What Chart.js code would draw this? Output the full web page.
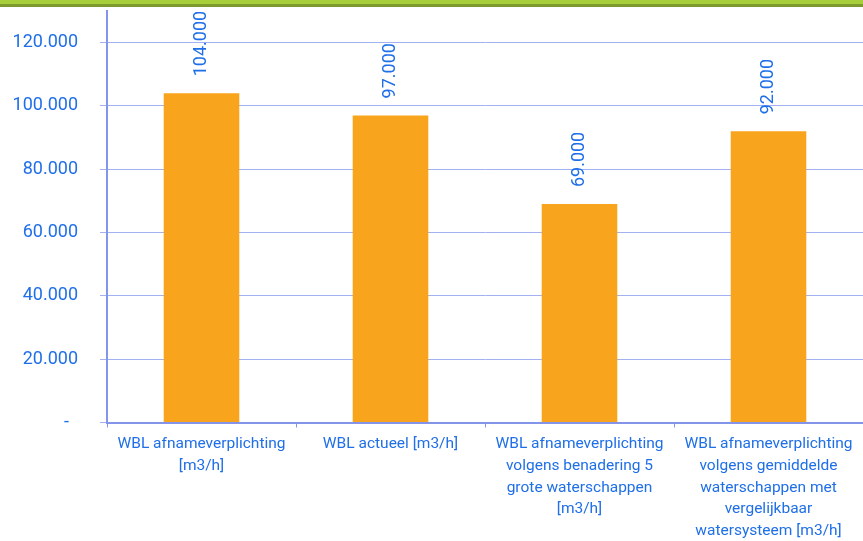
<!DOCTYPE html>
<html>
<head>
<meta charset="utf-8">
<script src="https://cdn.jsdelivr.net/npm/chart.js@4.4.1/dist/chart.umd.min.js"></script>
<style>
  html, body { margin: 0; padding: 0; background: #ffffff; }
  #wrap { position: relative; width: 863px; height: 541px; overflow: hidden; }
  #band1 { position: absolute; left: 0; top: 0; width: 863px; height: 4px; background: #a6cd3a; }
  #band2 { position: absolute; left: 0; top: 4px; width: 863px; height: 3px; background: #7d9b2c; }
  canvas { position: absolute; left: 0; top: 0; }
</style>
</head>
<body>
<div id="wrap">
  <canvas id="c" width="863" height="541"></canvas>
  <div id="band1"></div>
  <div id="band2"></div>
</div>
<script>
const categories = [
  ['WBL afnameverplichting', '[m3/h]'],
  ['WBL actueel [m3/h]'],
  ['WBL afnameverplichting', 'volgens benadering 5', 'grote waterschappen', '[m3/h]'],
  ['WBL afnameverplichting', 'volgens gemiddelde', 'waterschappen met', 'vergelijkbaar', 'watersysteem [m3/h]']
];
const values = [104000, 97000, 69000, 92000];
const valueLabels = ['104.000', '97.000', '69.000', '92.000'];
const yTickValues = [0, 20000, 40000, 60000, 80000, 100000, 120000];
const yTickLabels = ['-  ', '20.000', '40.000', '60.000', '80.000', '100.000', '120.000'];
const yMax = 130000;

const BLUE = '#1f6fe8';
const GRID = '#a3b0f2';
const AXIS = '#8394ea';

const valueLabelPlugin = {
  id: 'valueLabels',
  afterDatasetsDraw(chart) {
    const ctx = chart.ctx;
    const meta = chart.getDatasetMeta(0);
    ctx.save();
    ctx.fillStyle = BLUE;
    ctx.font = '18px Roboto';
    ctx.textAlign = 'left';
    ctx.textBaseline = 'middle';
    meta.data.forEach((bar, i) => {
      ctx.save();
      ctx.translate(bar.x, bar.y - 17);
      ctx.rotate(-Math.PI / 2);
      ctx.fillText(valueLabels[i], 0, 0);
      ctx.restore();
    });
    ctx.restore();
  }
};

new Chart(document.getElementById('c'), {
  type: 'bar',
  data: {
    labels: categories,
    datasets: [{
      data: values,
      backgroundColor: '#f8a51d',
      borderWidth: 0,
      barPercentage: 0.4,
      categoryPercentage: 1.0
    }]
  },
  options: {
    responsive: false,
    animation: false,
    devicePixelRatio: 1,
    layout: { padding: { left: 13, right: 0, top: 11, bottom: 0 } },
    plugins: { legend: { display: false }, tooltip: { enabled: false } },
    scales: {
      x: {
        offset: true,
        afterFit(scale) { scale.paddingLeft = 0; scale.paddingRight = 0; scale.height = scale.height - 7; },
        grid: { display: true, drawOnChartArea: false, offset: true, color: AXIS, tickLength: 5, tickWidth: 1 },
        border: { display: true, color: AXIS, width: 2 },
        ticks: {
          color: BLUE,
          font: { family: 'Roboto', size: 15.5, lineHeight: 1.4 },
          padding: 6,
          autoSkip: false,
          maxRotation: 0,
          minRotation: 0
        }
      },
      y: {
        min: 0,
        max: yMax,
        afterBuildTicks(scale) {
          scale.ticks = yTickValues.map(v => ({ value: v }));
        },
        afterFit(scale) { scale.paddingTop = 0; scale.paddingBottom = 0; scale.width = 94; },
        grid: { color: GRID, lineWidth: 1, tickLength: 7, tickColor: GRID },
        border: { display: true, color: AXIS, width: 2 },
        ticks: {
          color: BLUE,
          font: { family: 'Roboto', size: 18 },
          padding: 22,
          callback: (v, i) => yTickLabels[i]
        }
      }
    }
  },
  plugins: [valueLabelPlugin]
});
</script>
</body>
</html>
